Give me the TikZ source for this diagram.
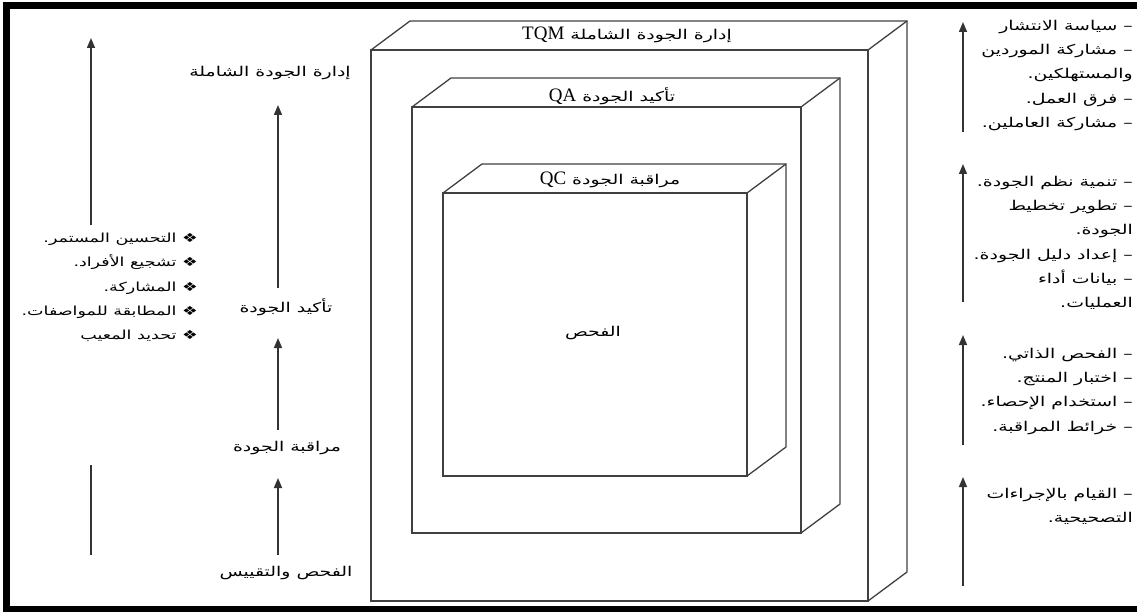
\documentclass[tikz,border=0pt]{standalone}
\usepackage{fontspec}
\setmainfont{Liberation Serif}
\newfontfamily\arabicfont[Script=Arabic,FakeStretch=1.4]{DejaVu Sans}
\TeXXeTstate=1
\usetikzlibrary{arrows.meta,positioning,calc}
\tikzset{
  frame/.style={line width=7pt, black},
  cube/.style={line width=1.3pt, draw=black!75},
  uparr/.style={line width=1.6pt, draw=black!80, -{Triangle[width=8pt,length=10pt]}},
  plainline/.style={line width=1.6pt, draw=black!80},
  lbl/.style={inner sep=0pt, font=\arabicsize, align=center},
  blk/.style={inner sep=0pt, font=\arabicsize, align=right, anchor=north east},
}
\newcommand{\arabicsize}{\fontsize{13.5}{24.2}\selectfont}
\newcommand{\artxt}[1]{{\arabicfont\beginR #1\endR}}
\newcommand{\latin}[1]{\beginL{\rmfamily\fontsize{19}{19}\selectfont #1}\endL}
\newcommand{\qualitybox}[4]{% left, top, right, bottom
  \draw[cube] (#1,#2) rectangle (#3,#4);
  \draw[cube] (#1,#2) -- ++(39,-29) -- (#3+39,#2-29) -- (#3+39,#4-29) -- (#3,#4);
  \draw[cube] (#3,#2) -- ++(39,-29);
}

\begin{document}
\begin{tikzpicture}[x=1pt, y=-1pt]
  \useasboundingbox (0,0) rectangle (1137,612);
  \draw[frame] (1137,6) -- (6,6) -- (6,609) -- (1137,609);

  \qualitybox{371}{50}{868}{601}
  \qualitybox{412}{107}{801}{533}
  \qualitybox{443}{193}{747}{476}
  \node[lbl] (tqm) at (627,35) {\artxt{إدارة الجودة الشاملة \latin{TQM}}};
  \node[lbl] (qa) at (612,96) {\artxt{تأكيد الجودة \latin{QA}}};
  \node[lbl] (qc) at (610,180) {\artxt{مراقبة الجودة \latin{QC}}};
  \node[lbl] (fahs) at (593,333) {\artxt{الفحص}};

  % middle column
  \node[lbl] (tqmlvl) at (270,73) {\artxt{إدارة الجودة الشاملة}};
  \node[lbl] (qalvl) at (286,307) {\artxt{تأكيد الجودة}};
  \node[lbl] (qclvl) at (287,448) {\artxt{مراقبة الجودة}};
  \node[lbl] (inslvl) at (286,573) {\artxt{الفحص والتقييس}};
  \coordinate (m1) at (278,555); \coordinate (m2) at (278,478);
  \coordinate (m3) at (278,430); \coordinate (m4) at (278,338);
  \coordinate (m5) at (278,288); \coordinate (m6) at (278,105);
  \draw[uparr] (m1) -- (m2);
  \draw[uparr] (m3) -- (m4);
  \draw[uparr] (m5) -- (m6);

  % left column
  \node[blk, font=\fontsize{12.5}{24.2}\selectfont] (focus) at (198,233) {%
    \artxt{❖ التحسين المستمر.}\\
    \artxt{❖ تشجيع الأفراد.}\\
    \artxt{❖ المشاركة.}\\
    \artxt{❖ المطابقة للمواصفات.}\\
    \artxt{❖ تحديد المعيب}};
  \coordinate (l1) at (91,555); \coordinate (l2) at (91,465);
  \coordinate (l3) at (91,225); \coordinate (l4) at (91,38);
  \draw[plainline] (l1) -- (l2);
  \draw[uparr] (l3) -- (l4);

  % right column
  \node[blk] (blkone) at (1133,20) {%
    \artxt{– سياسة الانتشار}\\
    \artxt{– مشاركة الموردين}\\
    \artxt{والمستهلكين.}\\
    \artxt{– فرق العمل.}\\
    \artxt{– مشاركة العاملين.}};
  \node[blk] (blktwo) at (1133,176) {%
    \artxt{– تنمية نظم الجودة.}\\
    \artxt{– تطوير تخطيط}\\
    \artxt{الجودة.}\\
    \artxt{– إعداد دليل الجودة.}\\
    \artxt{– بيانات أداء}\\
    \artxt{العمليات.}};
  \node[blk] (blkthree) at (1133,348) {%
    \artxt{– الفحص الذاتي.}\\
    \artxt{– اختبار المنتج.}\\
    \artxt{– استخدام الإحصاء.}\\
    \artxt{– خرائط المراقبة.}};
  \node[blk] (blkfour) at (1133,488) {%
    \artxt{– القيام بالإجراءات}\\
    \artxt{التصحيحية.}};
  \coordinate (r1) at (963,132); \coordinate (r2) at (963,22);
  \coordinate (r3) at (963,302); \coordinate (r4) at (963,164);
  \coordinate (r5) at (963,445); \coordinate (r6) at (963,335);
  \coordinate (r7) at (963,586); \coordinate (r8) at (963,477);
  \draw[uparr] (r1) -- (r2);
  \draw[uparr] (r3) -- (r4);
  \draw[uparr] (r5) -- (r6);
  \draw[uparr] (r7) -- (r8);
\end{tikzpicture}
\end{document}
